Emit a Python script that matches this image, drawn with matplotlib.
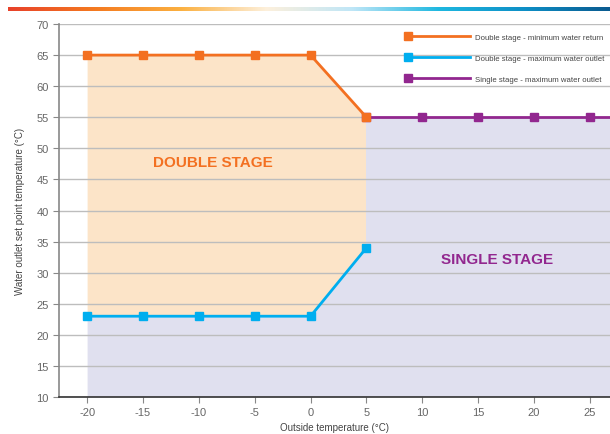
import matplotlib
matplotlib.use('Agg')
import matplotlib.pyplot as plt
import numpy as np
from matplotlib.colors import LinearSegmentedColormap

# data
outside_double = [-20, -15, -10, -5, 0, 5]
min_return = [65, 65, 65, 65, 65, 55]
max_outlet_double = [23, 23, 23, 23, 23, 34]
outside_single = [5, 10, 15, 20, 25]
max_outlet_single = [55, 55, 55, 55, 55]

orange = '#F37021'
blue = '#00AEEF'
purple = '#92278F'

plt.rcParams['font.family'] = ['Liberation Sans', 'DejaVu Sans']
plt.rcParams['axes.unicode_minus'] = False

fig = plt.figure(figsize=(6.1, 4.35), dpi=100)

# gradient bar on top
bar = fig.add_axes([0.013, 0.973, 0.987, 0.008])
cmap = LinearSegmentedColormap.from_list('band', ['#E8412A', '#F47A20', '#FBB040', '#FDF0DC',
                                                  '#BFE6F7', '#1FB8E0', '#0E8FC6', '#0A5A8F'])
bar.imshow(np.linspace(0, 1, 256)[None, :], aspect='auto', cmap=cmap)
bar.axis('off')

ax = fig.add_axes([0.097, 0.085, 0.903, 0.8575])
ax.set_xlim(-22.5, 26.8)
ax.set_ylim(10, 70)

# shaded areas
ax.fill_between(outside_double, max_outlet_double, min_return, color='#FCE4C8', lw=0, zorder=0)
ax.fill_between(outside_double, 10, max_outlet_double, color='#E0E0EF', lw=0, zorder=0)
xmax = ax.get_xlim()[1]
ax.fill_between([outside_single[0], xmax], 10, max_outlet_single[0], color='#E0E0EF', lw=0, zorder=0)

ax.set_yticks(np.arange(10, 71, 5))
ax.set_xticks(np.arange(-20, 26, 5))
ax.grid(axis='y', color='#BDBDBD', lw=1)
for gl in ax.get_ygridlines():
    gl.set_zorder(0.5)

ax.plot([outside_single[-1], xmax], [max_outlet_single[-1]] * 2, color=purple, lw=2, zorder=2)
p_single, = ax.plot(outside_single, max_outlet_single, color=purple, lw=2, marker='s', ms=6,
                    label='Single stage - maximum water outlet', zorder=3)
p_blue, = ax.plot(outside_double, max_outlet_double, color=blue, lw=2, marker='s', ms=6,
                  label='Double stage - maximum water outlet', zorder=3)
p_orange, = ax.plot(outside_double, min_return, color=orange, lw=2, marker='s', ms=6,
                    label='Double stage - minimum water return', zorder=4)

ax.text(-8.7, 47.8, 'DOUBLE STAGE', color=orange, fontsize=11, fontweight='bold',
        ha='center', va='center')
ax.text(16.7, 32.2, 'SINGLE STAGE', color=purple, fontsize=11, fontweight='bold',
        ha='center', va='center')

for s in ['top', 'right']:
    ax.spines[s].set_visible(False)
ax.spines['left'].set_color('#888888')
ax.spines['left'].set_linewidth(1.2)
ax.spines['bottom'].set_color('#333333')
ax.spines['bottom'].set_linewidth(1.2)
ax.tick_params(axis='both', labelsize=8, colors='#888888', labelcolor='#666666', length=4)

ax.set_xlabel('Outside temperature (°C)', fontsize=7, color='#444444', labelpad=3)
ax.set_ylabel('Water outlet set point temperature (°C)', fontsize=7, color='#444444', labelpad=8)

handles = [p_orange, p_blue, p_single]
leg = ax.legend(handles, [h.get_label() for h in handles], loc='upper right',
                bbox_to_anchor=(1.0, 0.99), frameon=False, fontsize=5.6, numpoints=1,
                handlelength=7.9, handletextpad=0.7, labelspacing=1.75, borderaxespad=0.3)
for line in leg.get_lines():
    line.set_markevery([0])
for t in leg.get_texts():
    t.set_color('#444444')

fig.savefig('out.png', dpi=100)
